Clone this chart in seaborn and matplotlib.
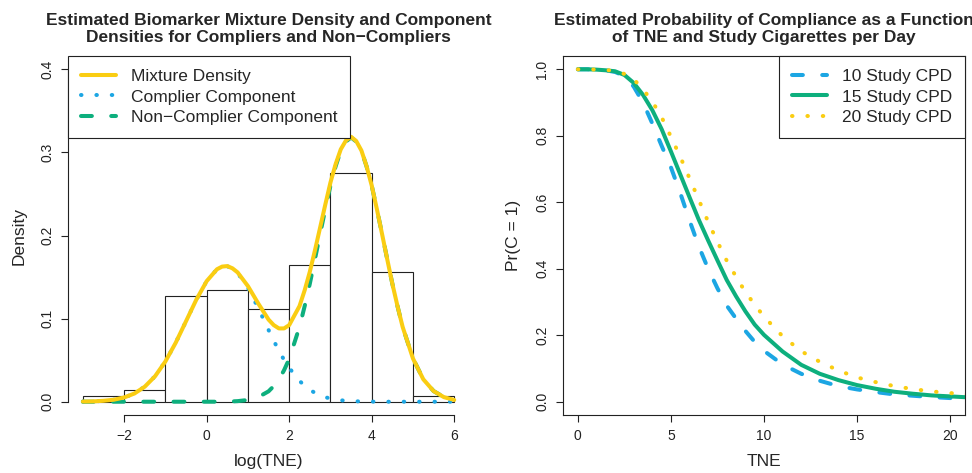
import numpy as np
import pandas as pd
import seaborn as sns
import matplotlib.pyplot as plt

# histogram of log(TNE) on the density scale
bin_edges = [-3, -2, -1, 0, 1, 2, 3, 4, 5, 6]
bin_density = [0.0072, 0.0144, 0.1268, 0.1340, 0.1117, 0.1640, 0.2756, 0.1565, 0.0072]

# estimated densities
log_tne = [-3.00, -2.75, -2.50, -2.25, -2.00, -1.75, -1.50, -1.25, -1.00, -0.75,
           -0.50, -0.25, 0.00, 0.25,
           0.375, 0.50, 0.625, 0.75, 1.00, 1.25, 1.50, 1.625, 1.75, 1.875, 2.00,
           2.25, 2.375, 2.50, 2.625, 2.75, 2.875, 3.00, 3.125, 3.25, 3.375, 3.50,
           3.625, 3.75, 3.875, 4.00, 4.125, 4.25, 4.375, 4.50, 4.625, 4.75,
           5.00, 5.25, 5.50, 5.75, 6.00]
mixture = [0.0002, 0.0004, 0.0011, 0.0024, 0.0051, 0.0099, 0.0181, 0.0307, 0.0485, 0.0710,
           0.0969, 0.1229, 0.1451, 0.1594,
           0.1626, 0.1632, 0.1605, 0.1556, 0.1391, 0.1182, 0.0988, 0.0922, 0.0882, 0.0882, 0.0922,
           0.1151, 0.1341, 0.1564, 0.1823, 0.2097, 0.2372, 0.2638, 0.2858, 0.3037, 0.3143, 0.3188,
           0.3136, 0.3023, 0.2834, 0.2601, 0.2318, 0.2020, 0.1717, 0.1420, 0.1150, 0.0900,
           0.0520, 0.0270, 0.0128, 0.0055, 0.0021]
complier = [0.0002, 0.0004, 0.0011, 0.0024, 0.0051, 0.0099, 0.0181, 0.0307, 0.0485, 0.0710,
            0.0969, 0.1229, 0.1451, 0.1594,
            0.1625, 0.1630, 0.1601, 0.1549, 0.1370, 0.1127, 0.0863, 0.0734, 0.0614, 0.0504, 0.0407,
            0.0251, 0.0191, 0.0144, 0.0106, 0.0077, 0.0054, 0.0038, 0.0026, 0.0017, 0.0012, 0.0008,
            0.0005, 0.0003, 0.0002, 0.0001, 0.0, 0.0, 0.0, 0.0, 0.0, 0.0,
            0.0, 0.0, 0.0, 0.0, 0.0]
noncomplier = [0.0, 0.0, 0.0, 0.0, 0.0, 0.0, 0.0, 0.0, 0.0, 0.0,
               0.0, 0.0, 0.0, 0.0,
               0.0001, 0.0002, 0.0004, 0.0007, 0.0021, 0.0055, 0.0125, 0.0188, 0.0268, 0.0378, 0.0515,
               0.0900, 0.1150, 0.1420, 0.1717, 0.2020, 0.2318, 0.2600, 0.2832, 0.3020, 0.3131, 0.3180,
               0.3131, 0.3020, 0.2832, 0.2600, 0.2318, 0.2020, 0.1717, 0.1420, 0.1150, 0.0900,
               0.0520, 0.0270, 0.0128, 0.0055, 0.0021]

# probability of compliance, right panel
tne = [0, 0.5, 1, 1.5, 2, 2.5, 3, 3.5, 4, 4.5, 5, 5.5, 6, 6.5, 7, 7.5, 8, 8.5, 9, 9.5,
       10, 11, 12, 13, 14, 15, 16, 17, 18, 19, 20, 21]
cpd10 = [1.000, 1.000, 0.999, 0.997, 0.992, 0.980, 0.948, 0.900, 0.837, 0.770, 0.705, 0.628,
         0.545, 0.467, 0.400, 0.341, 0.289, 0.250, 0.213, 0.180, 0.153, 0.112, 0.084, 0.063,
         0.047, 0.037, 0.029, 0.022, 0.018, 0.014, 0.011, 0.009]
cpd15 = [1.000, 1.000, 0.999, 0.997, 0.994, 0.983, 0.959, 0.923, 0.877, 0.820, 0.753, 0.684,
         0.615, 0.547, 0.485, 0.425, 0.366, 0.317, 0.272, 0.232, 0.201, 0.151, 0.111, 0.084,
         0.065, 0.050, 0.039, 0.030, 0.024, 0.019, 0.016, 0.013]
cpd20 = [1.000, 1.000, 0.999, 0.998, 0.995, 0.986, 0.970, 0.940, 0.903, 0.856, 0.797, 0.737,
         0.672, 0.607, 0.541, 0.481, 0.424, 0.376, 0.330, 0.292, 0.256, 0.197, 0.152, 0.120,
         0.094, 0.073, 0.059, 0.047, 0.038, 0.031, 0.026, 0.022]

sns.set_style("ticks")
plt.rcParams["font.family"] = ["Liberation Sans", "DejaVu Sans"]

gold = "#FACD12"
blue = "#1CA6E3"
green = "#0DAF7D"
ink = "#222222"
lw = 2.9
dashed = (0, (2.7, 4.8))
dotted = (0, (0.12, 3.7))

fig = plt.figure(figsize=(9.72, 4.73), dpi=100)
ax1 = fig.add_axes([0.070, 0.1226, 0.4126, 0.759])
ax2 = fig.add_axes([0.5792, 0.1226, 0.4136, 0.759])

legend_kw = dict(borderaxespad=0, fancybox=False, framealpha=1, edgecolor=ink,
                 fontsize=12.5, handlelength=2.0, handletextpad=0.85,
                 labelspacing=0.3, borderpad=0.75)

# left panel
centers = [(a + b) / 2 for a, b in zip(bin_edges[:-1], bin_edges[1:])]
sns.histplot(x=centers, weights=bin_density, bins=bin_edges, stat="count",
             color="white", edgecolor=ink, linewidth=0.8, alpha=1, ax=ax1)
sns.lineplot(x=log_tne, y=complier, color=blue, lw=lw, ax=ax1, linestyle=dotted,
             dash_capstyle="round", label="Complier Component")
sns.lineplot(x=log_tne, y=noncomplier, color=green, lw=lw, ax=ax1, linestyle=dashed,
             dash_capstyle="round", label="Non\u2212Complier Component")
sns.lineplot(x=log_tne, y=mixture, color=gold, lw=lw, ax=ax1,
             label="Mixture Density", solid_capstyle="round")

ax1.set_xlim(-3.36, 6.36)
ax1.set_ylim(-0.016, 0.416)
ax1.set_xticks([-2, 0, 2, 4, 6])
yt1 = [0.0, 0.1, 0.2, 0.3, 0.4]
ax1.set_yticks(yt1)
ax1.set_yticklabels([f"{v:.1f}" for v in yt1], rotation=90, va="center")
ax1.spines["top"].set_visible(False)
ax1.spines["right"].set_visible(False)
ax1.spines["left"].set_bounds(0, 0.4)
ax1.spines["bottom"].set_bounds(-2, 6)
ax1.set_title("Estimated Biomarker Mixture Density and Component\n"
              "Densities for Compliers and Non\u2212Compliers",
              fontsize=12.5, fontweight="bold", pad=10)
ax1.set_xlabel("log(TNE)", fontsize=12.5, labelpad=8)
ax1.set_ylabel("Density", fontsize=12.5, labelpad=10)
h, l = ax1.get_legend_handles_labels()
order = [2, 0, 1]
leg1 = ax1.legend([h[i] for i in order], [l[i] for i in order],
                  loc="upper left", bbox_to_anchor=(0, 1), **legend_kw)
leg1.get_frame().set_linewidth(0.8)

# right panel
sns.lineplot(x=tne, y=cpd10, color=blue, lw=lw, ax=ax2, linestyle=dashed,
             dash_capstyle="round", label="10 Study CPD")
sns.lineplot(x=tne, y=cpd15, color=green, lw=lw, ax=ax2, label="15 Study CPD")
sns.lineplot(x=tne, y=cpd20, color=gold, lw=lw, ax=ax2, linestyle=dotted,
             dash_capstyle="round", label="20 Study CPD")

ax2.set_xlim(-0.8, 20.8)
ax2.set_ylim(-0.04, 1.04)
ax2.set_xticks([0, 5, 10, 15, 20])
yt2 = [0.0, 0.2, 0.4, 0.6, 0.8, 1.0]
ax2.set_yticks(yt2)
ax2.set_yticklabels([f"{v:.1f}" for v in yt2], rotation=90, va="center")
ax2.set_title("Estimated Probability of Compliance as a Function\n"
              "of TNE and Study Cigarettes per Day",
              fontsize=12.5, fontweight="bold", pad=10)
ax2.set_xlabel("TNE", fontsize=12.5, labelpad=8)
ax2.set_ylabel("Pr(C = 1)", fontsize=12.5, labelpad=10)
leg2 = ax2.legend(loc="upper right", bbox_to_anchor=(1, 1), **legend_kw)
leg2.get_frame().set_linewidth(0.8)

for ax in (ax1, ax2):
    ax.tick_params(direction="out", length=5, width=0.8, pad=5, labelsize=10,
                   color=ink, labelcolor=ink)
    for s in ax.spines.values():
        s.set_linewidth(0.8)
        s.set_color(ink)

fig.savefig("out.png", dpi=100)
